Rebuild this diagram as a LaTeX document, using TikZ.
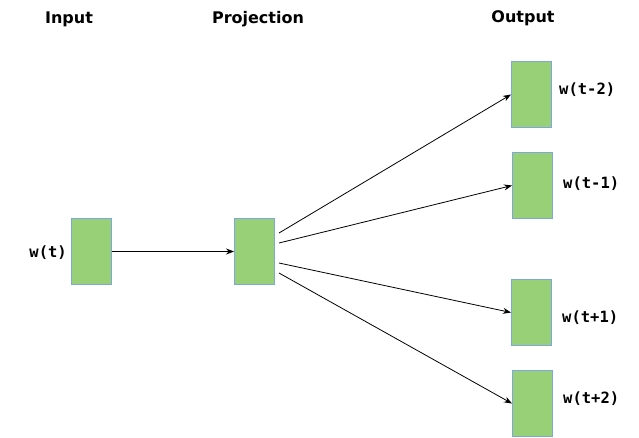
\documentclass[tikz,border=0pt]{standalone}
\usepackage{fontspec}
\setmainfont{DejaVu Sans}
\newfontfamily\monofnt{DejaVu Sans Mono}
\usetikzlibrary{arrows.meta}
\definecolor{boxfill}{HTML}{97D077}
\definecolor{boxline}{HTML}{7EA6E0}
\begin{document}
\begin{tikzpicture}[x=1pt,y=-1pt,
  vec/.style={draw=boxline,fill=boxfill,line width=1pt,minimum width=40pt,minimum height=66pt,inner sep=0pt,anchor=north west},
  hdr/.style={font=\fontsize{16}{19}\selectfont\bfseries,inner sep=0pt},
  lbl/.style={font=\monofnt\fontsize{15.5}{18}\selectfont\bfseries,inner sep=0pt},
  conn/.style={draw=black,line width=0.8pt,-{Stealth[length=8pt,width=6pt]}}]
\useasboundingbox (0,0) rectangle (639,437);
\node[hdr] (hin) at (69,19) {Input};
\node[hdr] (hproj) at (258,19) {Projection};
\node[hdr] (hout) at (523,18) {Output};
\node[vec] (in) at (71,218) {};
\node[vec] (proj) at (234,218) {};
\node[vec] (o1) at (511,61) {};
\node[vec] (o2) at (512,152) {};
\node[vec] (o3) at (511,279) {};
\node[vec] (o4) at (512,370) {};
\node[lbl,anchor=east] (lin) at (67,253) {w(t)};
\node[lbl,anchor=west] (l1) at (559,90) {w(t-2)};
\node[lbl,anchor=west] (l2) at (563,184) {w(t-1)};
\node[lbl,anchor=west] (l3) at (562,318) {w(t+1)};
\node[lbl,anchor=west] (l4) at (563,399) {w(t+2)};
\coordinate (s1) at (279,233);
\coordinate (s2) at (279,243);
\coordinate (s3) at (279,263);
\coordinate (s4) at (279,273);
\draw[conn] (in.east) -- (proj.west);
\draw[conn] (s1) -- (o1.west);
\draw[conn] (s2) -- (o2.west);
\draw[conn] (s3) -- (o3.west);
\draw[conn] (s4) -- (o4.west);
\end{tikzpicture}
\end{document}
